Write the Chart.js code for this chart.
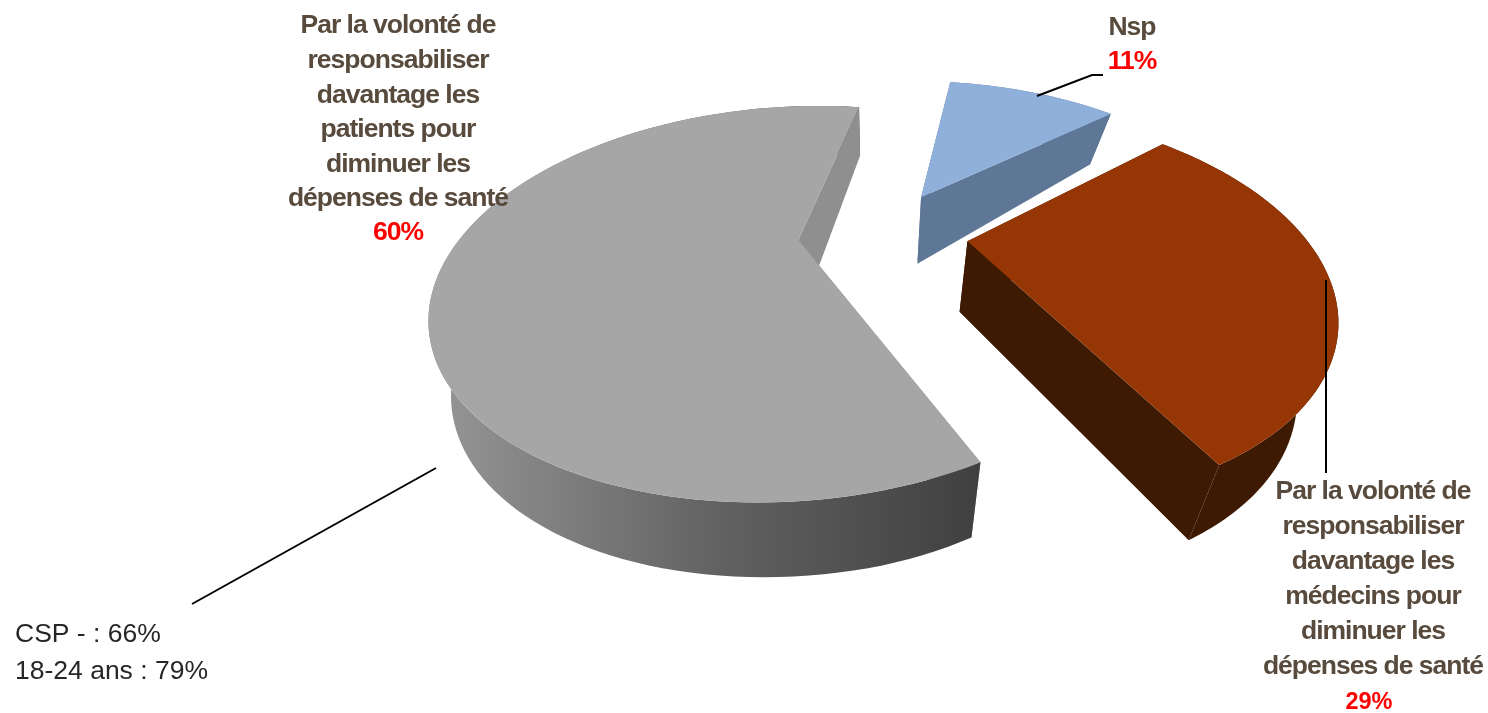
<!DOCTYPE html>
<html lang="fr">
<head>
<meta charset="utf-8">
<title>Camembert 3D</title>
<script src="https://cdn.jsdelivr.net/npm/chart.js@4"></script>
<style>
	html, body { margin: 0; background: #fff; }
	canvas { display: block; }
</style>
</head>
<body>
<canvas id="pie" width="1488" height="713"></canvas>
<script>
const categories = [
	'Par la volonté de responsabiliser davantage les patients pour diminuer les dépenses de santé',
	'Nsp',
	'Par la volonté de responsabiliser davantage les médecins pour diminuer les dépenses de santé',
];
const values = [60, 11, 29];
const topColors = ['#a6a6a6', '#8fb0da', '#953604'];
const wallColors = ['#8f8f8f', '#5f7796', '#3e1a02'];

const patientLines = ['Par la volonté de', 'responsabiliser', 'davantage les', 'patients pour', 'diminuer les', 'dépenses de santé'];
const medecinLines = ['Par la volonté de', 'responsabiliser', 'davantage les', 'médecins pour', 'diminuer les', 'dépenses de santé'];
const noteLines = ['CSP - : 66%', '18-24 ans : 79%'];

// perspective du disque : (u, v) en rayons, v vers le spectateur
const cam = { cx: 883, cy: 233, rx: 335, ry: 173, k: 0.32, nadirX: 880 };

function project(u, v, lower) {
	const den = 1 - cam.k * v;
	let x = cam.cx + (cam.rx * u) / den;
	let y = cam.cy + (cam.ry * v) / den;
	if (lower) {
		// le bas se resserre moins à gauche qu'à droite
		const shrink = x < cam.nadirX ? 0.95 : 0.91;
		x = cam.nadirX + shrink * (x - cam.nadirX);
		y += 70 + 14 * v - 9 * v * v;
	}
	return [x, y];
}

function fillPoly(ctx, pts, color) {
	ctx.beginPath();
	pts.forEach((p, i) => (i ? ctx.lineTo(p[0], p[1]) : ctx.moveTo(p[0], p[1])));
	ctx.closePath();
	ctx.fillStyle = color;
	ctx.fill();
}

function drawSlice(ctx, arc, index) {
	const mid = (arc.startAngle + arc.endAngle) / 2;
	const e = arc.options.offset / arc.outerRadius;
	const ox = e * Math.cos(mid);
	const oy = e * Math.sin(mid);
	const rim = (a, lower) => project(ox + Math.cos(a), oy + Math.sin(a), lower);
	const apex = (lower) => project(ox, oy, lower);
	const cut = (a) => fillPoly(ctx, [apex(false), rim(a, false), rim(a, true), apex(true)], wallColors[index]);

	const top = [];
	const bottom = [];
	const steps = 120;
	for (let i = 0; i <= steps; i++) {
		const a = arc.startAngle + ((arc.endAngle - arc.startAngle) * i) / steps;
		top.push(rim(a, false));
		bottom.push(rim(a, true));
	}

	cut(arc.startAngle);

	// paroi extérieure
	let wall = wallColors[index];
	if (index === 0) {
		wall = ctx.createLinearGradient(450, 0, 985, 0);
		wall.addColorStop(0, '#939393');
		wall.addColorStop(0.5, '#626262');
		wall.addColorStop(1, '#3f3f3f');
	}
	fillPoly(ctx, top.concat(bottom.slice().reverse()), wall);

	cut(arc.endAngle);

	// dessus
	fillPoly(ctx, [apex(false)].concat(top), topColors[index]);
}

function drawLabel(ctx, lines, x, y, step) {
	lines.forEach((line, i) => ctx.fillText(line, x, y + i * step));
}

const pie3d = {
	id: 'pie3d',
	beforeDatasetDraw(chart, args) {
		const ctx = chart.ctx;
		ctx.save();
		args.meta.data.forEach((arc, i) => drawSlice(ctx, arc, i));
		ctx.restore();
		return false;
	},
	afterDraw(chart) {
		const ctx = chart.ctx;
		ctx.save();

		// traits de rappel
		ctx.strokeStyle = '#000';
		ctx.lineWidth = 2;
		[
			[[436, 468], [192, 604]],
			[[1037, 96], [1092, 75], [1103, 75]],
			[[1326, 280], [1326, 473]],
		].forEach((seg) => {
			ctx.beginPath();
			seg.forEach((p, i) => (i ? ctx.lineTo(p[0], p[1]) : ctx.moveTo(p[0], p[1])));
			ctx.stroke();
		});

		ctx.textAlign = 'center';
		ctx.textBaseline = 'middle';
		ctx.font = 'bold 26.5px "Liberation Sans"';
		ctx.letterSpacing = '-1px';
		ctx.fillStyle = '#584a3c';
		drawLabel(ctx, patientLines, 398, 26, 34.6);
		drawLabel(ctx, medecinLines, 1373, 492, 35);
		ctx.fillText(categories[1], 1132, 28);

		ctx.fillStyle = '#ff0000';
		ctx.fillText(values[0] + '%', 398, 233);
		ctx.fillText(values[1] + '%', 1132, 62);
		ctx.font = 'bold 23.5px "Liberation Sans"';
		ctx.letterSpacing = '0px';
		ctx.fillText(values[2] + '%', 1369, 703);

		ctx.textAlign = 'left';
		ctx.font = '26.5px "Liberation Sans"';
		ctx.fillStyle = '#262626';
		drawLabel(ctx, noteLines, 15, 635, 37);
		ctx.restore();
	},
};

new Chart(document.getElementById('pie').getContext('2d'), {
	type: 'pie',
	data: {
		labels: categories,
		datasets: [{ data: values, backgroundColor: topColors, borderWidth: 0, offset: 80 }],
	},
	options: {
		responsive: false,
		animation: false,
		devicePixelRatio: 1,
		rotation: 153,
		plugins: { legend: { display: false }, tooltip: { enabled: false } },
	},
	plugins: [pie3d],
});
</script>
</body>
</html>
